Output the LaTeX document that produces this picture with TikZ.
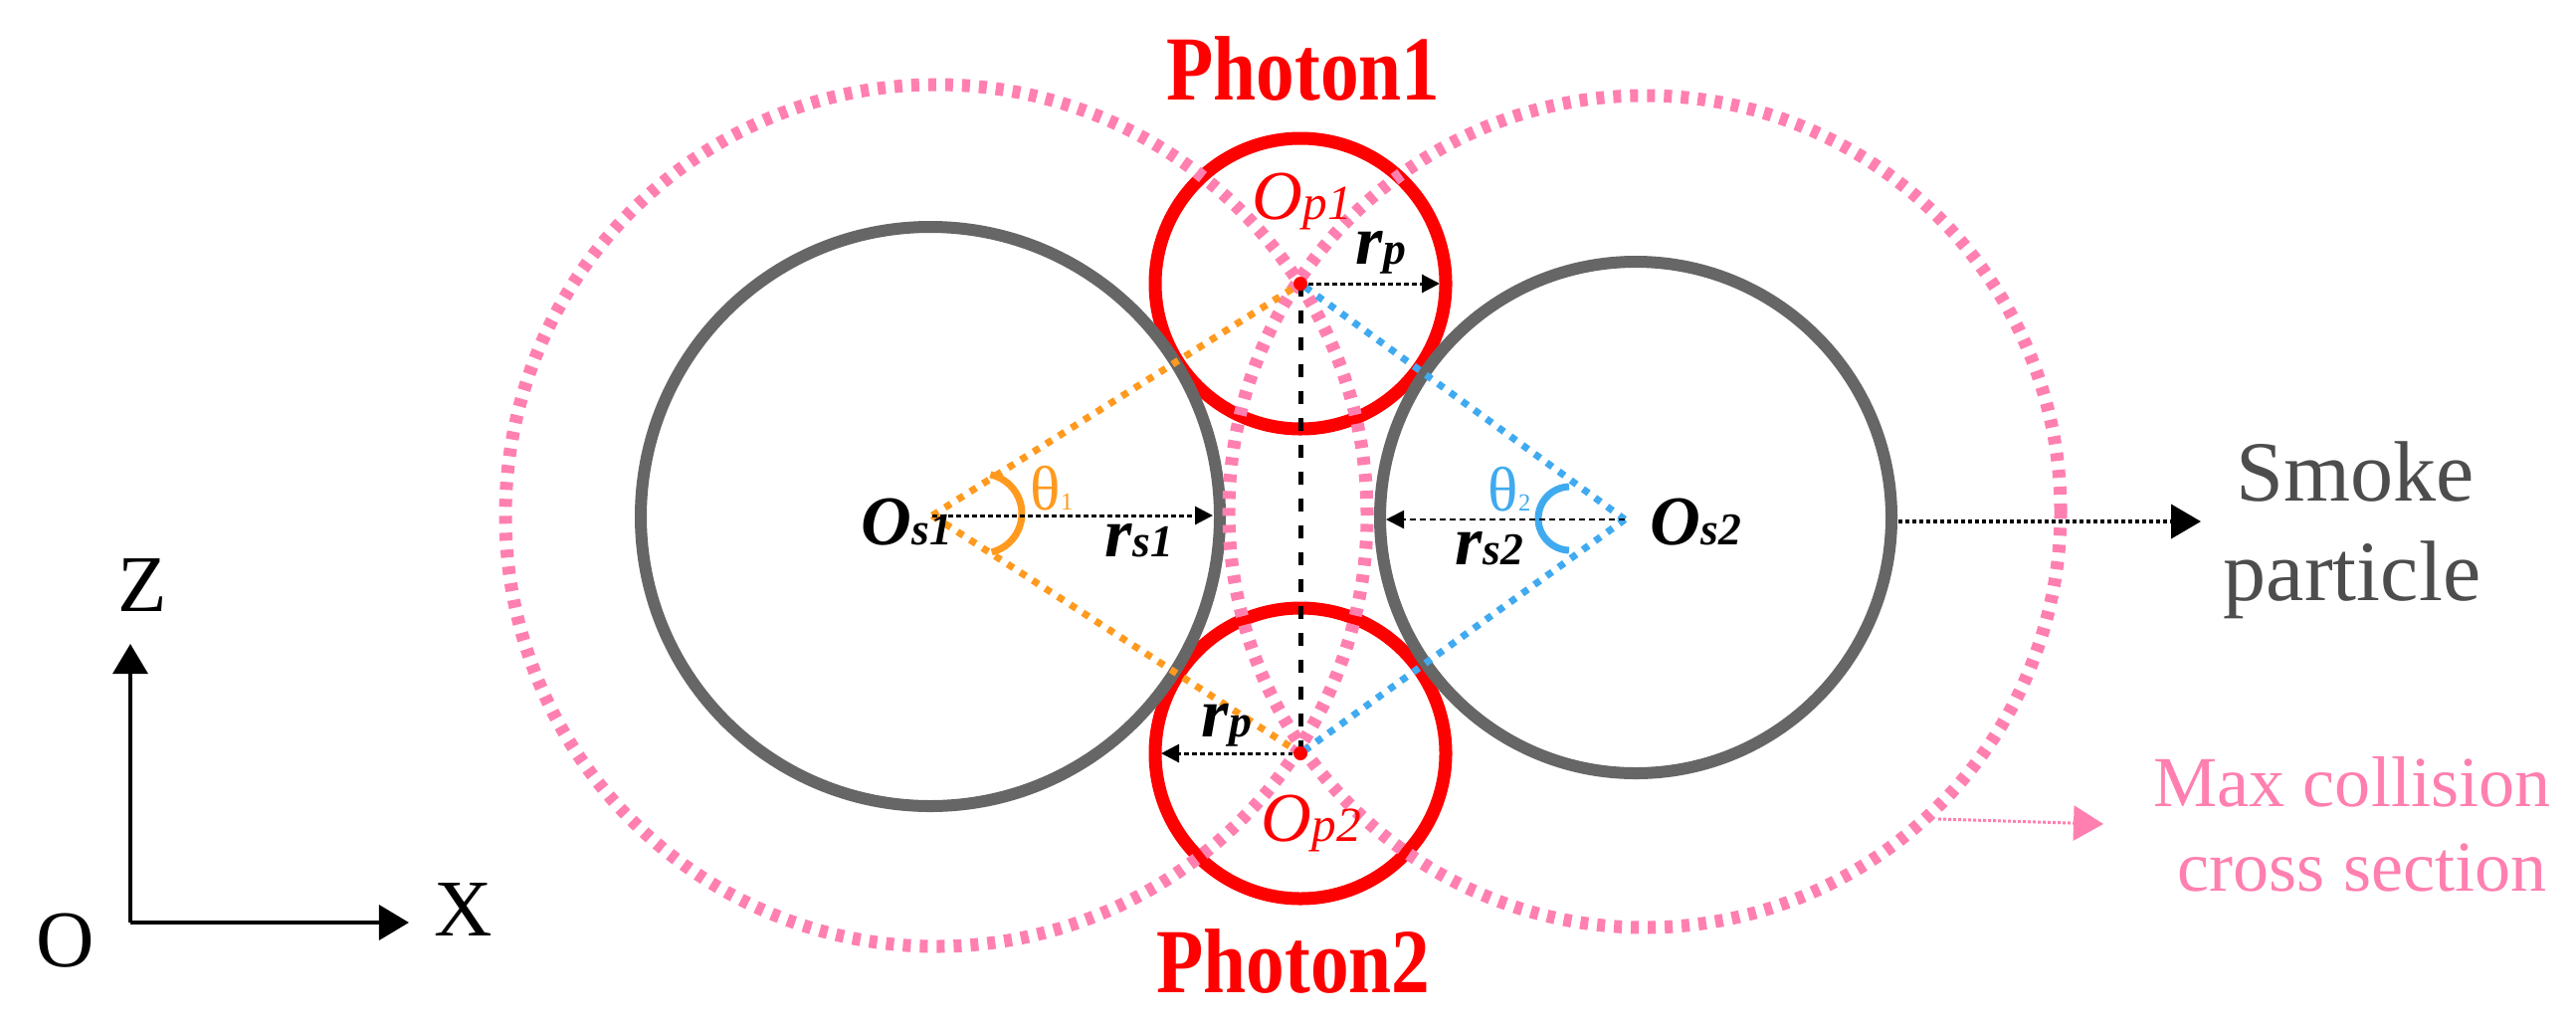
\documentclass[tikz,border=0pt]{standalone}
\usepackage{fontspec}
\setmainfont{LiberationSerif}[Extension=.ttf,UprightFont=*-Regular,BoldFont=*-Bold,ItalicFont=*-Italic,BoldItalicFont=*-BoldItalic]
\usetikzlibrary{arrows.meta}
\definecolor{cgray}{HTML}{666666}
\definecolor{cred}{HTML}{FF0000}
\definecolor{cpink}{HTML}{FF80B0}
\definecolor{corange}{HTML}{FF9A1F}
\definecolor{cblue}{HTML}{40AAF0}
\definecolor{ctext}{HTML}{4D4D4D}
\newcommand\bsub[2]{\textbf{\textit{#1}}{\fontsize{13}{13}\selectfont\textbf{\textit{#2}}}}
\newcommand\isub[2]{\textit{#1}{\fontsize{14}{14}\selectfont\textit{#2}}}
\newcommand\thsub[2]{{\fontsize{18}{20}\selectfont #1}{\fontsize{7}{8}\selectfont #2}}
\begin{document}
\begin{tikzpicture}[x=0.01cm,y=0.01cm,
  smoke/.style={draw=cgray,line width=0.12cm},
  photon/.style={draw=cred,line width=0.13cm},
  maxcs/.style={draw=cpink,line width=0.13cm,dash pattern=on 0.08cm off 0.09cm},
  ang/.style={line width=0.07cm,dash pattern=on 0.07cm off 0.08cm},
  angarc/.style={line width=0.07cm},
  rarrow/.style={black,line width=0.03cm,dash pattern=on 0.045cm off 0.035cm,
     -{Triangle[length=0.18cm,width=0.18cm]}},
  rarrowb/.style={black,line width=0.022cm,dash pattern=on 0.06cm off 0.04cm,
     -{Triangle[length=0.18cm,width=0.18cm]}},
  lbl/.style={anchor=base west,inner sep=0pt,font=\fontsize{20}{24}\selectfont},
  axis/.style={black,line width=0.033cm,-{Triangle[length=0.3cm,width=0.35cm]}},
  axlbl/.style={anchor=base,inner sep=0pt,font=\fontsize{23}{28}\selectfont},
  photonlbl/.style={anchor=base,inner sep=0pt,text=cred,font=\fontsize{22}{26}\selectfont\bfseries}
]
\useasboundingbox (0,0) rectangle (2589,-1033);

% key points
\coordinate (Os1) at (937,-518);
\coordinate (Os2) at (1633,-522);
\coordinate (Op1) at (1307,-285);
\coordinate (Op2) at (1307,-757);
\coordinate (C1) at (935,-519);
\coordinate (C2) at (1644,-520);
\coordinate (P1) at (941,-518);
\coordinate (P2) at (1653,-514);

% photons and smoke particles
\draw[photon] (Op1) circle[radius=146];
\draw[photon] (Op2) circle[radius=146];
\draw[smoke] (C1) circle[radius=291];
\draw[smoke] (C2) circle[radius=257];

% max collision cross sections
\draw[maxcs] (P1) circle[radius=433];
\draw[maxcs] (P2) circle[radius=418];

% angle lines
\draw[ang,corange] (Os1) -- (Op1);
\draw[ang,corange] (Os1) -- (Op2);
\draw[ang,cblue] (Os2) -- (Op1);
\draw[ang,cblue] (Os2) -- (Op2);
\coordinate (A1) at (987,-516);
\coordinate (A2) at (1578,-521);
\draw[angarc,corange] (A1) ++(-76:40) arc[start angle=-76,end angle=78,radius=40];
\draw[angarc,cblue] (A2) ++(92:32) arc[start angle=92,end angle=268,radius=32];

% vertical dashed line
\draw[black,line width=0.05cm,dash pattern=on 0.13cm off 0.14cm] (Op1) -- (Op2);

% radius arrows
\coordinate (Rs1) at (1219,-518);
\coordinate (Rs2) at (1393,-522);
\coordinate (Rp1) at (1447,-285);
\coordinate (Rp2) at (1167,-757);
\draw[rarrow] (Os1) -- (Rs1);
\draw[rarrowb] (Os2) -- (Rs2);
\draw[rarrow] (Op1) -- (Rp1);
\draw[rarrow] (Op2) -- (Rp2);

% centre dots
\fill[cred] (Op1) circle[radius=7];
\fill[cred] (Op2) circle[radius=7];

% callouts
\coordinate (Sm0) at (1908,-524);
\coordinate (Sm1) at (2212,-524);
\draw[black,line width=0.04cm,dash pattern=on 0.04cm off 0.03cm,
      -{Triangle[length=0.3cm,width=0.34cm]}] (Sm0) -- (Sm1);
\coordinate (Mx0) at (1948,-823);
\coordinate (Mx1) at (2114,-828);
\draw[cpink,line width=0.03cm,dash pattern=on 0.03cm off 0.02cm,
      -{Triangle[length=0.3cm,width=0.35cm]}] (Mx0) -- (Mx1);

\node[anchor=base,inner sep=0pt,text=ctext,font=\fontsize{24.5}{28}\selectfont] (smk) at (2367,-503) {Smoke};
\node[anchor=base,inner sep=0pt,text=ctext,font=\fontsize{24.5}{28}\selectfont] (prt) at (2364,-603) {particle};
\node[anchor=base,inner sep=0pt,text=cpink,font=\fontsize{20.5}{24}\selectfont] (mx1) at (2364,-810) {Max collision};
\node[anchor=base,inner sep=0pt,text=cpink,font=\fontsize{20.5}{24}\selectfont] (mx2) at (2374,-895) {cross section};

% photon titles
\node[photonlbl] (ph1) at (1310,-100) {\scalebox{1}[1.19]{Photon1}};
\node[photonlbl] (ph2) at (1300,-997) {\scalebox{1}[1.19]{Photon2}};

% labels
\node[lbl] (los1) at (865,-547) {\bsub{O}{s1}};
\node[lbl] (los2) at (1658,-547) {\bsub{O}{s2}};
\node[lbl] (lrs1) at (1110,-559) {\bsub{r}{s1}};
\node[lbl] (lrs2) at (1462,-567) {\bsub{r}{s2}};
\node[lbl] (lrp1) at (1362,-265) {\bsub{r}{p}};
\node[lbl] (lrp2) at (1207,-740) {\bsub{r}{p}};
\node[lbl,text=cred] (lop1) at (1258,-220) {\isub{O}{p1}};
\node[lbl,text=cred] (lop2) at (1267,-845) {\isub{O}{p2}};
\node[lbl,text=corange] (lth1) at (1035,-512) {\thsub{θ}{1}};
\node[lbl,text=cblue] (lth2) at (1495,-513) {\thsub{θ}{2}};

% axes
\coordinate (O) at (131,-927);
\coordinate (Zt) at (131,-647);
\coordinate (Xt) at (411,-927);
\draw[axis] (O) -- (Zt);
\draw[axis] (O) -- (Xt);
\node[axlbl] (zl) at (143,-614) {Z};
\node[axlbl] (xl) at (466,-940) {X};
\node[axlbl] (ol) at (66,-971) {O};
\end{tikzpicture}
\end{document}
